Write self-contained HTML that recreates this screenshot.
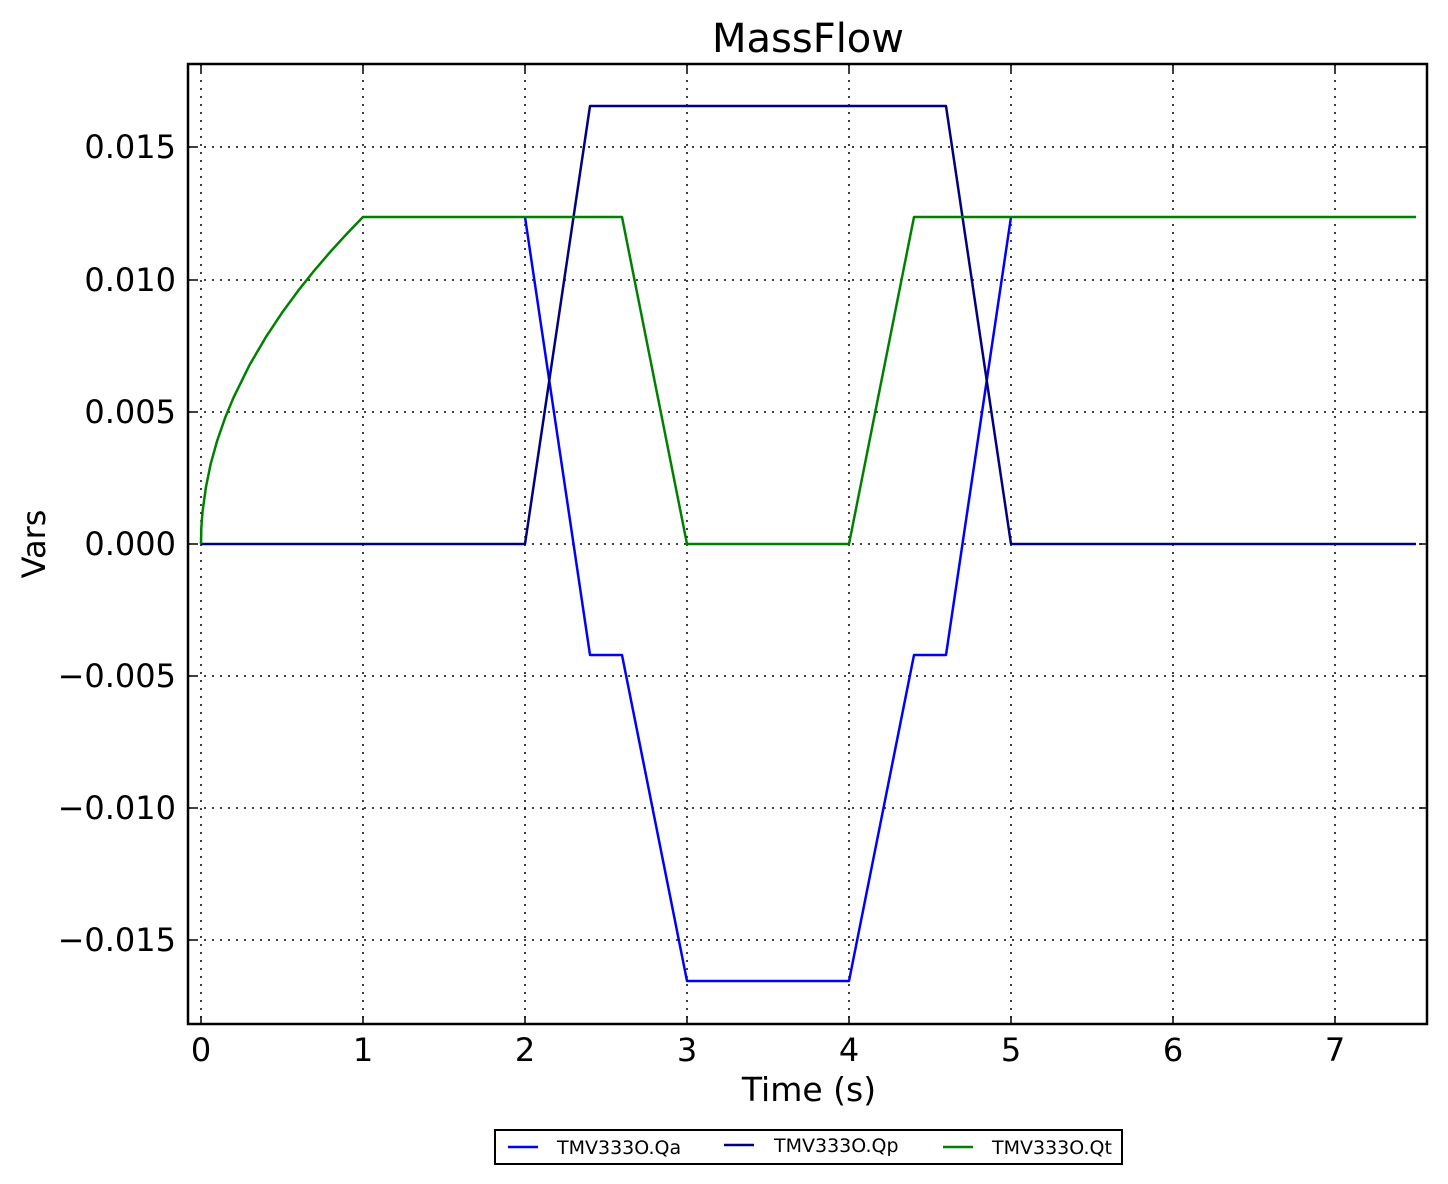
<!DOCTYPE html>
<html><head><style>body{margin:0;background:#fff}svg{display:block}text{font-family:"DejaVu Sans","Liberation Sans",sans-serif}</style></head><body>
<svg width="1448" height="1184" viewBox="0 0 1448 1184" xmlns="http://www.w3.org/2000/svg">
<rect width="1448" height="1184" fill="#fff"/>
<g stroke="#000" stroke-width="1.5" stroke-dasharray="2,6">
<line x1="201" y1="64" x2="201" y2="1024"/><line x1="363" y1="64" x2="363" y2="1024"/><line x1="525" y1="64" x2="525" y2="1024"/><line x1="687" y1="64" x2="687" y2="1024"/><line x1="849" y1="64" x2="849" y2="1024"/><line x1="1011" y1="64" x2="1011" y2="1024"/><line x1="1173" y1="64" x2="1173" y2="1024"/><line x1="1335" y1="64" x2="1335" y2="1024"/>
<line x1="188" y1="147" x2="1427" y2="147"/><line x1="188" y1="280" x2="1427" y2="280"/><line x1="188" y1="412" x2="1427" y2="412"/><line x1="188" y1="544" x2="1427" y2="544"/><line x1="188" y1="676" x2="1427" y2="676"/><line x1="188" y1="808" x2="1427" y2="808"/><line x1="188" y1="940" x2="1427" y2="940"/>
</g>
<g stroke="#000" stroke-width="1.5">
<path d="M201 1024v-8M363 1024v-8M525 1024v-8M687 1024v-8M849 1024v-8M1011 1024v-8M1173 1024v-8M1335 1024v-8M201 64v8M363 64v8M525 64v8M687 64v8M849 64v8M1011 64v8M1173 64v8M1335 64v8"/>
<path d="M188 147h8M188 280h8M188 412h8M188 544h8M188 676h8M188 808h8M188 940h8M1427 147h-8M1427 280h-8M1427 412h-8M1427 544h-8M1427 676h-8M1427 808h-8M1427 940h-8"/>
</g>
<g fill="none" stroke-width="2.5" stroke-linejoin="round">
<polyline stroke="#0000ff" points="525,217 590,655 622,655 687,981 849,981 914,655 946,655 1011,217"/>
<polyline stroke="#000080" points="201,544 525,544 590,106 946,106 1011,544 1416,544"/>
<polyline stroke="#008000" points="201,544 201.3,528 201.8,521 202.6,511.3 205.9,487.4 210.7,463.9 217.2,440.6 225.3,417.3 233.4,397.8 249.6,364.9 265.8,337.2 282,312.8 298.2,290.7 314.4,270.4 330.6,251.5 346.8,233.8 363,217 622,217 687,544 849,544 914,217 1416,217"/>
</g>
<rect x="188" y="64" width="1239" height="960" fill="none" stroke="#000" stroke-width="2.5"/>
<g font-size="32" text-anchor="middle" fill="#000">
<text x="201" y="1061">0</text><text x="363" y="1061">1</text><text x="525" y="1061">2</text><text x="687" y="1061">3</text><text x="849" y="1061">4</text><text x="1011" y="1061">5</text><text x="1173" y="1061">6</text><text x="1335" y="1061">7</text>
</g>
<g font-size="32" text-anchor="end" fill="#000">
<text x="176" y="158">0.015</text><text x="176" y="291">0.010</text><text x="176" y="423">0.005</text><text x="176" y="555">0.000</text><text x="176" y="687">−0.005</text><text x="176" y="819">−0.010</text><text x="176" y="951">−0.015</text>
</g>
<text x="808" y="52" font-size="40" text-anchor="middle">MassFlow</text>
<text x="809" y="1101" font-size="33" text-anchor="middle">Time (s)</text>
<text transform="translate(45,544) rotate(-90)" font-size="32" text-anchor="middle">Vars</text>
<rect x="495" y="1130" width="627" height="34" fill="#fff" stroke="#000" stroke-width="2"/>
<g stroke-width="2.5"><line x1="508" y1="1147" x2="538" y2="1147" stroke="#0000ff"/><line x1="724" y1="1145" x2="754" y2="1145" stroke="#000080"/><line x1="943" y1="1147" x2="973" y2="1147" stroke="#008000"/></g>
<g font-size="19"><text x="557" y="1154">TMV333O.Qa</text><text x="774" y="1152">TMV333O.Qp</text><text x="992" y="1154">TMV333O.Qt</text></g>
</svg>
</body></html>
